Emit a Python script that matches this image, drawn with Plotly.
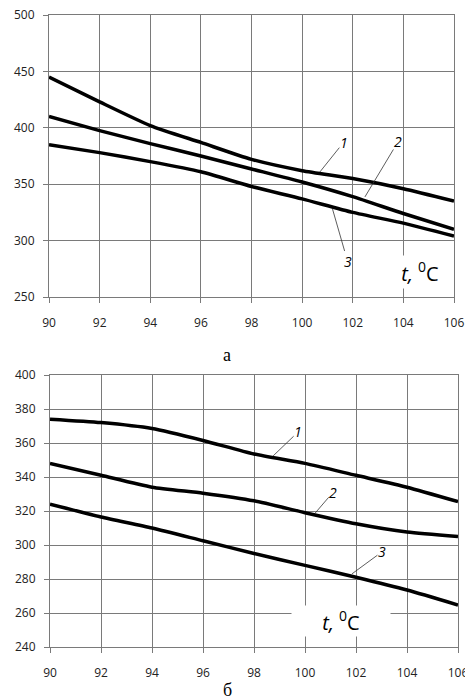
import plotly.graph_objects as go

# ---- data ----
t = [90, 92, 94, 96, 98, 100, 102, 104, 106]

# panel a
a1 = [445, 423, 402, 387, 372, 362, 355, 346, 335]
a2 = [410, 397.5, 386, 375, 363.5, 352, 339, 324, 310]
a3 = [385, 378, 370, 361, 348, 337, 325, 315.5, 304]

# panel б
b1 = [374, 372, 368.5, 361.5, 353.5, 348, 341, 334, 325.5]
b2 = [348, 341, 334, 330.5, 326, 319, 312.5, 307.6, 305]
b3 = [324, 316.5, 310, 302.5, 295, 288, 281, 273.5, 264.7]

x_ticks = [90, 92, 94, 96, 98, 100, 102, 104, 106]
ya_ticks = [250, 300, 350, 400, 450, 500]
yb_ticks = [240, 260, 280, 300, 320, 340, 360, 380, 400]

W, H = 465, 700
fig = go.Figure()

line = dict(color="black", width=3.5, shape="spline", smoothing=0.6)
for ys in (a1, a2, a3):
    fig.add_trace(go.Scatter(x=t, y=ys, mode="lines", line=line, xaxis="x", yaxis="y",
                             showlegend=False, hoverinfo="skip"))
for ys in (b1, b2, b3):
    fig.add_trace(go.Scatter(x=t, y=ys, mode="lines", line=line, xaxis="x2", yaxis="y2",
                             showlegend=False, hoverinfo="skip"))

grid = "#7a7a7a"
tickfont = dict(family="Open Sans, Noto Sans, sans-serif", size=12, color="#222")
common_x = dict(range=[90, 106], tickvals=x_ticks, showgrid=True, gridcolor=grid, gridwidth=1,
                showline=True, linecolor=grid, linewidth=1, mirror=True, ticks="outside",
                ticklen=5, tickcolor=grid, tickfont=tickfont, zeroline=False,
                ticklabelstandoff=10, automargin=False, ticklabeloverflow="allow")
common_y = dict(showgrid=True, gridcolor=grid, gridwidth=1, showline=True, linecolor=grid,
                linewidth=1, mirror=True, ticks="outside", ticklen=5, tickcolor=grid,
                tickfont=tickfont, zeroline=False, ticklabelstandoff=6, automargin=False,
                ticklabeloverflow="allow")

fig.update_layout(
    width=W, height=H, margin=dict(l=0, r=0, t=0, b=0, autoexpand=False),
    paper_bgcolor="white", plot_bgcolor="white",
    xaxis=dict(domain=[49 / W, 454 / W], anchor="y", **common_x),
    yaxis=dict(domain=[1 - 297 / H, 1 - 15 / H], range=[250, 500], tickvals=ya_ticks,
               anchor="x", **common_y),
    xaxis2=dict(domain=[50 / W, 458 / W], anchor="y2", **common_x),
    yaxis2=dict(domain=[1 - 647 / H, 1 - 375 / H], range=[240, 400], tickvals=yb_ticks,
                anchor="x2", **common_y),
)

labfont = dict(family="Open Sans, Noto Sans, sans-serif", size=14, color="black")
callouts = [
    ("x", "y", 100.7, 360.8, "1", 24, -30),
    ("x", "y", 102.48, 338.7, "2", 33, -55),
    ("x", "y", 101.2, 328.0, "3", 15, 52),
    ("x2", "y2", 98.75, 352.4, "1", 25, -24),
    ("x2", "y2", 100.4, 318.8, "2", 18, -21),
    ("x2", "y2", 101.84, 283.0, "3", 30, -22),
]
for xr, yr, xv, yv, txt, ax, ay in callouts:
    fig.add_annotation(xref=xr, yref=yr, x=xv, y=yv, text="<i>%s</i>" % txt, showarrow=True,
                       arrowhead=0, arrowwidth=0.8, arrowcolor="#333", ax=ax, ay=ay,
                       font=labfont, standoff=0, borderpad=0)

tfont = dict(family="Open Sans, Noto Sans, sans-serif", size=20, color="black")
fig.add_annotation(xref="paper", yref="paper", x=420 / W, y=1 - 272 / H,
                   text="<i>t,</i> <sup>0</sup>C", showarrow=False, font=tfont,
                   bgcolor="white", width=64, height=30, xanchor="center", yanchor="middle")
fig.add_annotation(xref="paper", yref="paper", x=341 / W, y=1 - 621 / H,
                   text="<i>t,</i> <sup>0</sup>C", showarrow=False, font=tfont,
                   bgcolor="white", width=96, height=28, xanchor="center", yanchor="middle")

serif = dict(family="Liberation Serif, DejaVu Serif, serif", size=18, color="black")
fig.add_annotation(xref="paper", yref="paper", x=227 / W, y=1 - 355 / H, text="а",
                   showarrow=False, font=serif, xanchor="center", yanchor="middle")
fig.add_annotation(xref="paper", yref="paper", x=227 / W, y=1 - 690 / H, text="б",
                   showarrow=False, font=serif, xanchor="center", yanchor="middle")

fig.write_html("out.html", config={"displayModeBar": False},
               post_script="document.body.style.margin='0';document.body.style.overflow='hidden';")
